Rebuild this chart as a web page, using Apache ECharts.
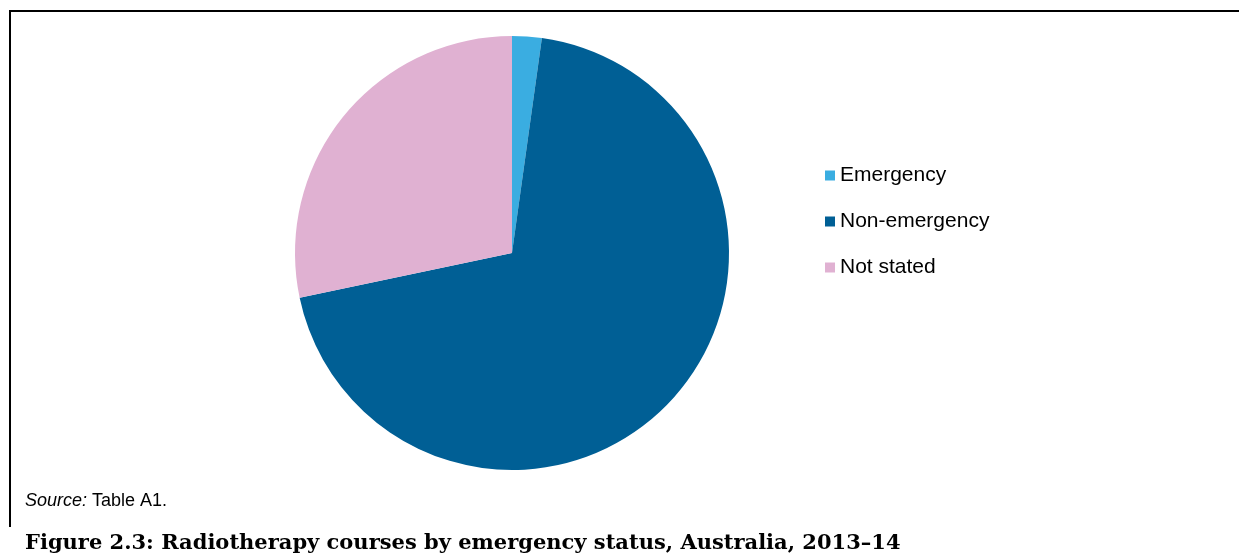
<!DOCTYPE html>
<html>
<head>
<meta charset="utf-8">
<script src="https://cdn.jsdelivr.net/npm/echarts@6/dist/echarts.min.js"></script>
<style>
  html, body { margin: 0; padding: 0; background: #fff; }
  #main { width: 1239px; height: 554px; }
</style>
</head>
<body>
<div id="main"></div>
<script>
// values (share of courses, %)
var categories = ['Emergency', 'Non-emergency', 'Not stated'];
var shares = [2.2, 69.5, 28.3];
var colors = ['#3AADE1', '#005F95', '#E0B1D2'];

var pieData = [];
for (var i = 0; i < categories.length; i++) {
  pieData.push({ name: categories[i], value: shares[i], itemStyle: { color: colors[i] } });
}

var myChart = echarts.init(document.getElementById('main'));
var option = {
  backgroundColor: '#fff',
  animation: false,
  legend: {
    orient: 'vertical',
    left: 820,
    top: 160,
    icon: 'rect',
    itemWidth: 10,
    itemHeight: 10,
    itemGap: 25,
    textStyle: {
      fontFamily: 'Liberation Sans',
      fontSize: 21,
      color: '#000'
    },
    data: categories
  },
  graphic: [
    { // frame top
      type: 'line',
      shape: { x1: 9, y1: 11, x2: 1239, y2: 11 },
      style: { stroke: '#000', lineWidth: 2 }
    },
    { // frame left
      type: 'line',
      shape: { x1: 10, y1: 10, x2: 10, y2: 527 },
      style: { stroke: '#000', lineWidth: 2 }
    },
    {
      type: 'text',
      left: 25,
      top: 492,
      style: {
        text: '{i|Source:} Table A1.',
        rich: {
          i: { fontStyle: 'italic', fontFamily: 'Liberation Sans', fontSize: 18, fill: '#000' }
        },
        fontFamily: 'Liberation Sans',
        fontSize: 18,
        fill: '#000'
      }
    },
    {
      type: 'text',
      left: 25,
      top: 533,
      style: {
        text: 'Figure 2.3: Radiotherapy courses by emergency status, Australia, 2013–14',
        fontFamily: 'DejaVu Serif',
        fontWeight: 'bold',
        fontSize: 21,
        fill: '#000'
      }
    }
  ],
  series: [
    {
      name: 'Emergency status',
      type: 'pie',
      center: [512, 253],
      radius: 217,
      startAngle: 90,
      clockwise: true,
      label: { show: false },
      labelLine: { show: false },
      itemStyle: { borderWidth: 0 },
      emphasis: { disabled: true },
      data: pieData
    }
  ]
};
myChart.setOption(option);
window.onresize = myChart.resize;
</script>
</body>
</html>
